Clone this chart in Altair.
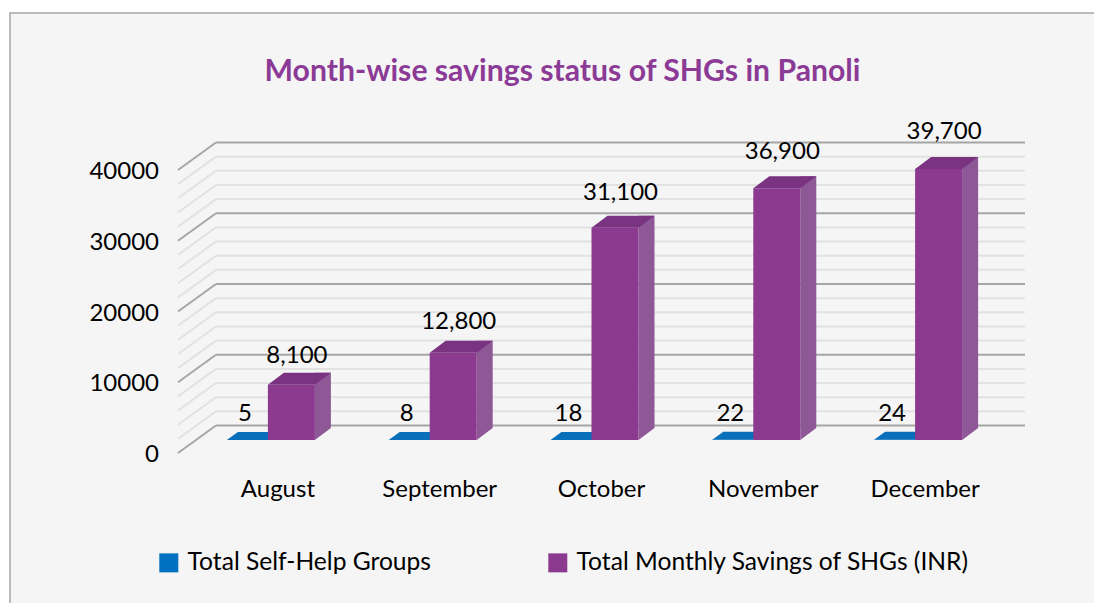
import altair as alt
import pandas as pd

# ---- data ----
months = ["August", "September", "October", "November", "December"]
shg_counts = [5, 8, 18, 22, 24]
savings = [8100, 12800, 31100, 36900, 39700]
major_ticks = [0, 10000, 20000, 30000, 40000]
minor_ticks = [2000, 4000, 6000, 8000, 12000, 14000, 16000, 18000,
               22000, 24000, 26000, 28000, 32000, 34000, 36000, 38000]
series_names = ["Total Self-Help Groups", "Total Monthly Savings of SHGs (INR)"]
title_text = "Month-wise savings status of SHGs in Panoli"

# ---- styles ----
FONT = "Lato"
BLUE = "#0070c0"
BLUE_TOP = "#0a6fba"
PURPLE = "#8b3a8f"
PURPLE_TOP = "#7a3381"
PURPLE_SIDE = "#8e5897"
TITLE_COLOR = "#8b3a96"
MAJOR = "#a6a6a6"
MINOR = "#e2e2e2"

df = pd.DataFrame({"month": months, "shg": shg_counts, "savings": savings})
shg_df = pd.DataFrame({"month": months, "value": shg_counts, "series": [series_names[0]] * len(months)})
sav_df = pd.DataFrame({"month": months, "value": savings, "series": [series_names[1]] * len(months)})
major_df = pd.DataFrame({"tick": major_ticks})
minor_df = pd.DataFrame({"tick": minor_ticks})
one = pd.DataFrame({"k": [0]})

W, H = 809, 283
grid_scale = alt.Scale(domain=[0, 40000], nice=False, zero=True)
bar_scale = alt.Scale(domain=[0, 40000], nice=False, zero=True, range=[H, 10])
xs = alt.X("month:N", sort=months, axis=None,
           scale=alt.Scale(domain=months, paddingInner=0, paddingOuter=0))
color_enc = alt.Color("series:N", scale=alt.Scale(domain=series_names, range=[BLUE, PURPLE]),
                      legend=alt.Legend(title=None))

frame = alt.Chart(one).mark_rect(fill="#f5f5f5", stroke="#a6a6a6", strokeWidth=1.5).encode(
    x=alt.value(-187), x2=alt.value(1100), y=alt.value(-144), y2=alt.value(700))


def back_grid(data, color):
    return alt.Chart(data).mark_rule(color=color, strokeWidth=2, yOffset=-14.5, y2Offset=-14.5).encode(
        x=alt.value(19), x2=alt.value(828),
        y=alt.Y("tick:Q", scale=grid_scale, axis=None), y2="tick:Q")


def diag_grid(data, color):
    return alt.Chart(data).mark_rule(color=color, strokeWidth=2, yOffset=13, y2Offset=-14.5).encode(
        x=alt.value(-19), x2=alt.value(19),
        y=alt.Y("tick:Q", scale=grid_scale, axis=None), y2="tick:Q")


ylabels = alt.Chart(major_df).mark_text(font=FONT, fontSize=24, color="#000", align="right",
                                        baseline="middle", dy=15).encode(
    x=alt.value(-38), y=alt.Y("tick:Q", scale=grid_scale, axis=None),
    text=alt.Text("tick:Q", format="d"))

xlabels = alt.Chart(df).mark_text(font=FONT, fontSize=24, color="#000", align="center",
                                  baseline="alphabetic").encode(
    x=xs, y=alt.value(340), text="month:N")

blue_front = alt.Chart(shg_df).mark_bar(width=41, xOffset=-30.5).encode(
    x=xs, y=alt.Y("value:Q", scale=bar_scale, axis=None), color=color_enc)
blue_top = alt.Chart(shg_df).mark_point(filled=True, opacity=1, strokeWidth=0, size=4, xOffset=-30.5,
                                        shape="M-20.5,0L20.5,0L31.5,-8L-9.5,-8Z", color=BLUE_TOP).encode(
    x=xs, y=alt.Y("value:Q", scale=bar_scale, axis=None))

purple_side = alt.Chart(sav_df).mark_bar(width=16, xOffset=45, yOffset=-12, y2Offset=-12,
                                         color=PURPLE_SIDE).encode(
    x=xs, y=alt.Y("value:Q", scale=bar_scale, axis=None, stack=None), y2=alt.datum(0))
purple_side_foot = alt.Chart(sav_df).mark_point(filled=True, opacity=1, strokeWidth=0, size=4, xOffset=37,
                                                shape="M0,0L0,-12L16,-12Z", color=PURPLE_SIDE).encode(
    x=xs, y=alt.Y("zero:Q", scale=bar_scale, axis=None)).transform_calculate(zero="0")
purple_front = alt.Chart(sav_df).mark_bar(width=47, xOffset=13.5).encode(
    x=xs, y=alt.Y("value:Q", scale=bar_scale, axis=None), color=color_enc)
purple_top = alt.Chart(sav_df).mark_point(filled=True, opacity=1, strokeWidth=0, size=4, xOffset=13.5,
                                          shape="M-23.5,0L23.5,0L39.5,-12L-7.5,-12Z", color=PURPLE_TOP).encode(
    x=xs, y=alt.Y("value:Q", scale=bar_scale, axis=None))

savings_labels = alt.Chart(sav_df).mark_text(font=FONT, fontSize=24, color="#000", align="center",
                                             baseline="alphabetic", dx=19, dy=-20).encode(
    x=xs, y=alt.Y("value:Q", scale=grid_scale, axis=None),
    text=alt.Text("value:Q", format=","))
shg_labels = alt.Chart(shg_df).mark_text(font=FONT, fontSize=24, color="#000", align="center",
                                         baseline="alphabetic", dx=-33, dy=-19).encode(
    x=xs, y=alt.Y("value:Q", scale=grid_scale, axis=None),
    text=alt.Text("value:Q", format="d"))

title = alt.Chart(one).mark_text(font=FONT, fontSize=30.2, fontWeight="bold", color=TITLE_COLOR,
                                 align="center", baseline="alphabetic").encode(
    x=alt.value(365.5), y=alt.value(-76), text=alt.value(title_text))

chart = alt.layer(
    frame,
    back_grid(minor_df, MINOR), diag_grid(minor_df, MINOR),
    back_grid(major_df, MAJOR), diag_grid(major_df, MAJOR),
    ylabels, xlabels,
    blue_front, blue_top,
    purple_side, purple_side_foot, purple_front, purple_top,
    savings_labels, shg_labels, title,
).resolve_scale(y="independent").properties(
    width=W, height=H,
    padding={"left": 189, "top": 149, "right": 88, "bottom": 163},
    autosize=alt.AutoSizeParams(type="none"),
    background="white",
).configure_view(stroke=None).configure_legend(
    orient="none", legendX=-50, legendY=393.5, direction="horizontal",
    symbolType="M0,-9.5H19V9.5H0Z", symbolSize=4, symbolStrokeWidth=0, symbolOpacity=1,
    labelFont=FONT, labelFontSize=24.6, labelColor="#000", labelOffset=16,
    columnPadding=104, padding=0, labelLimit=600,
)

chart.save("out.html", embed_options={"renderer": "svg", "actions": False})
